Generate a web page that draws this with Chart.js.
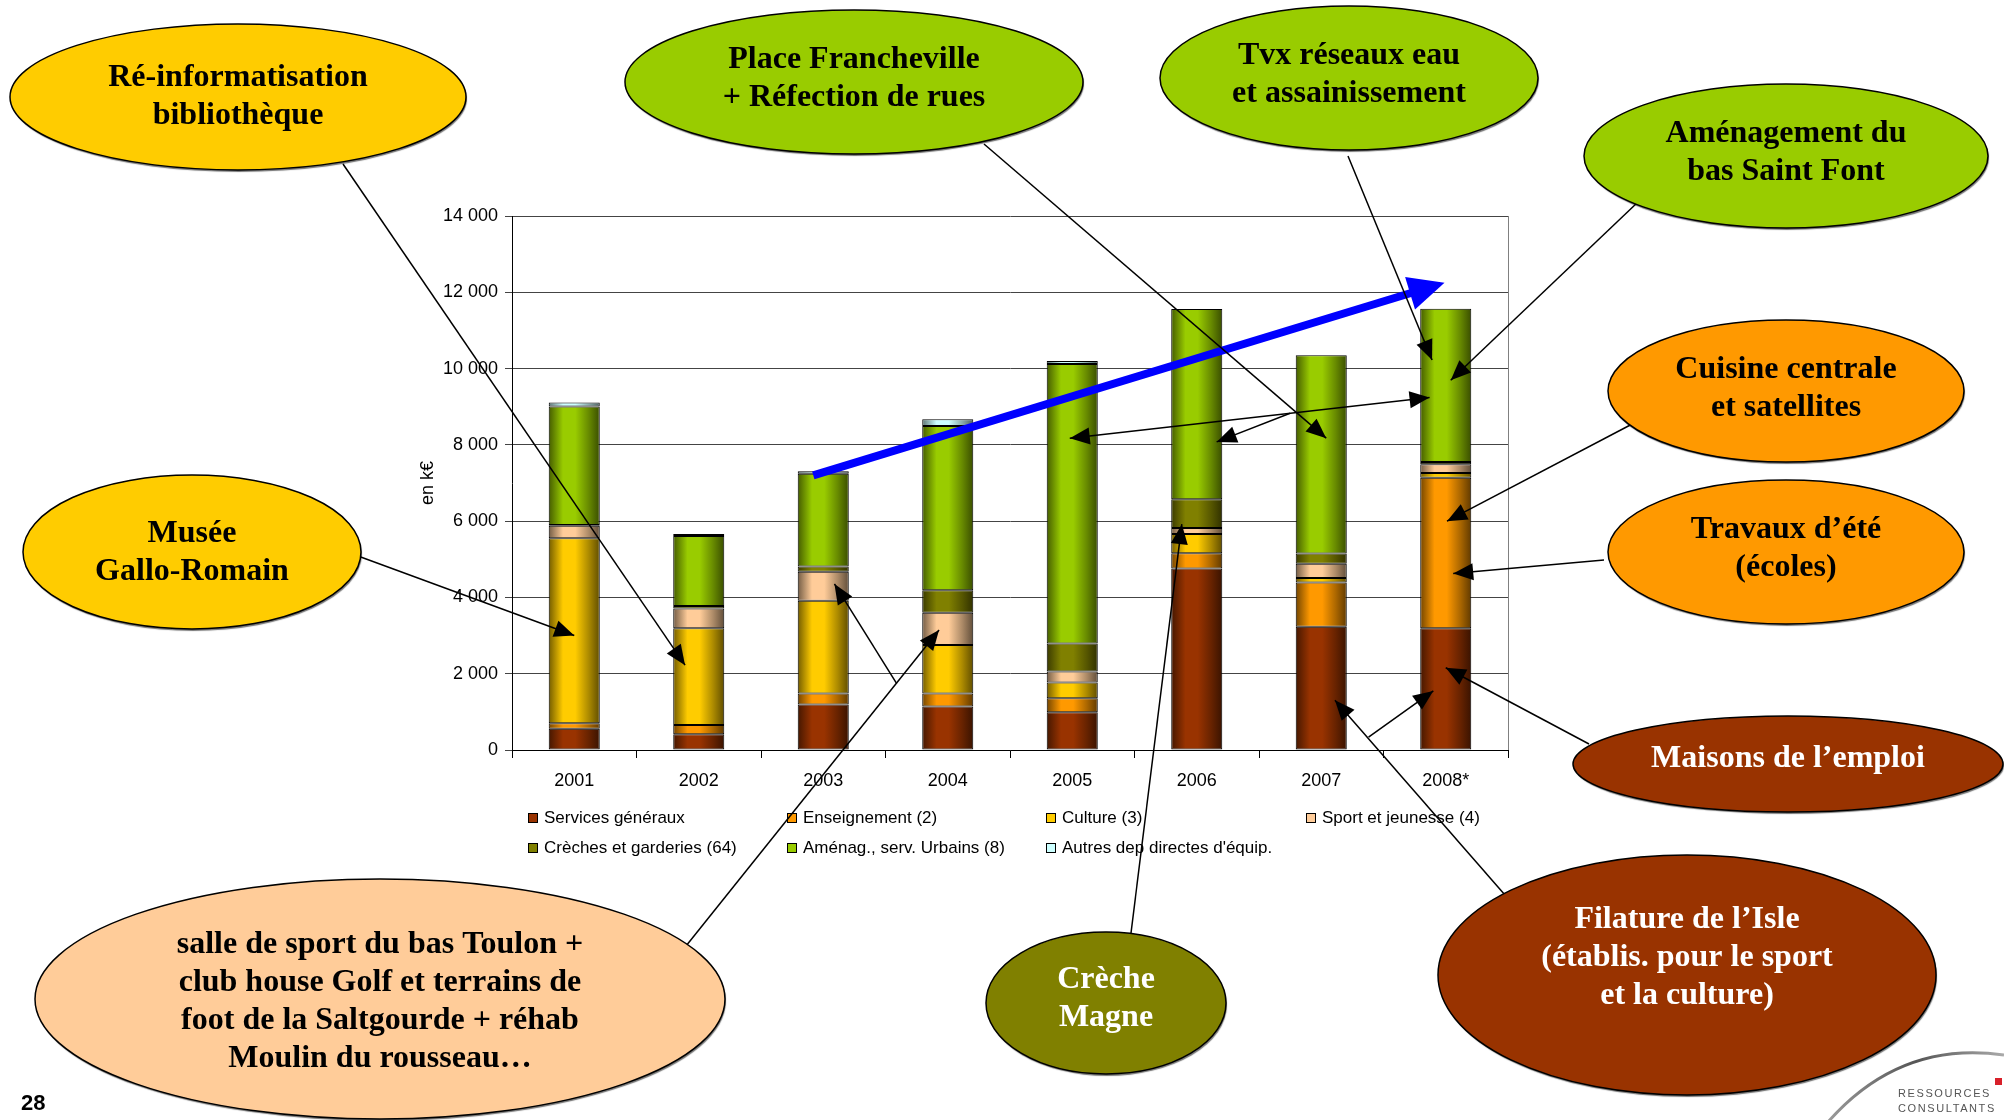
<!DOCTYPE html>
<html lang="fr">
<head>
<meta charset="utf-8">
<title>Dépenses d'équipement 2001-2008</title>
<script src="https://cdn.jsdelivr.net/npm/chart.js@4.4.1/dist/chart.umd.min.js"></script>
<style>
  html, body { margin: 0; padding: 0; background: #fff; }
  #wrap { width: 2004px; height: 1120px; position: relative; }
</style>
</head>
<body>
<div id="wrap"><canvas id="equipChart" width="2004" height="1120"></canvas></div>
<script>
// Dépenses d'équipement par fonction, en k€
const annees = ['2001', '2002', '2003', '2004', '2005', '2006', '2007', '2008*'];
const servicesGeneraux = [560, 416, 1190, 1140, 990, 4760, 3230, 3190];
const enseignement = [140, 242, 290, 340, 370, 400, 1160, 3950];
const culture = [4850, 2535, 2430, 1270, 410, 500, 120, 120];
const sportJeunesse = [330, 520, 765, 850, 290, 160, 370, 230];
const creches = [20, 60, 135, 590, 735, 755, 270, 60];
const amenagement = [3105, 1840, 2430, 4305, 7325, 4990, 5200, 4020];
const autres = [105, 50, 70, 175, 80, 0, 0, 0];
const yTicks = [0, 2000, 4000, 6000, 8000, 10000, 12000, 14000];

const SERIF = '"Liberation Serif", "Times New Roman", serif';
const SANS = '"Liberation Sans", Arial, sans-serif';
const BAR_FRACTION = 0.41;

function rgb(hex) {
  const n = parseInt(hex.slice(1), 16);
  return [(n >> 16) & 255, (n >> 8) & 255, n & 255];
}
function shade(hex, f) {
  const c = rgb(hex).map(v => Math.round(v * f));
  return 'rgb(' + c.join(',') + ')';
}

// remplissage "cylindre" : sombre sur les bords, clair au centre gauche
function barFill(base) {
  return function (c) {
    const chart = c.chart;
    if (!chart.chartArea || c.type !== 'data') return base;
    const xs = chart.scales.x;
    const cx = xs.getPixelForValue(c.dataIndex);
    const w = xs.width / annees.length * BAR_FRACTION;
    const g = chart.ctx.createLinearGradient(cx - w / 2, 0, cx + w / 2, 0);
    g.addColorStop(0, shade(base, 0.45));
    g.addColorStop(0.28, base);
    g.addColorStop(0.52, base);
    g.addColorStop(0.78, shade(base, 0.68));
    g.addColorStop(1, shade(base, 0.38));
    return g;
  };
}

function serie(label, data, color) {
  return {
    label: label,
    data: data,
    legendColor: color,
    backgroundColor: barFill(color),
    borderColor: '#000',
    borderWidth: 1,
    borderSkipped: false,
    barPercentage: BAR_FRACTION,
    categoryPercentage: 1
  };
}

// bulles de commentaire : centre, rayons, couleurs, lignes de texte
const bulles = [
  { x: 238, y: 97, rx: 228, ry: 73, fill: '#FFCC00', color: '#000', ty: 97, lines: ['Ré-informatisation', 'bibliothèque'] },
  { x: 854, y: 82, rx: 229, ry: 72, fill: '#99CC00', color: '#000', ty: 79, lines: ['Place Francheville', '+ Réfection de rues'] },
  { x: 1349, y: 78, rx: 189, ry: 72, fill: '#99CC00', color: '#000', ty: 75, lines: ['Tvx réseaux eau', 'et assainissement'] },
  { x: 1786, y: 156, rx: 202, ry: 72, fill: '#99CC00', color: '#000', ty: 153, lines: ['Aménagement du', 'bas Saint Font'] },
  { x: 1786, y: 391, rx: 178, ry: 71, fill: '#FF9900', color: '#000', ty: 389, lines: ['Cuisine centrale', 'et satellites'] },
  { x: 1786, y: 552, rx: 178, ry: 72, fill: '#FF9900', color: '#000', ty: 549, lines: ['Travaux d’été', '(écoles)'] },
  { x: 1788, y: 764, rx: 215, ry: 48, fill: '#993300', color: '#fff', ty: 759, lines: ['Maisons de l’emploi'] },
  { x: 1687, y: 975, rx: 249, ry: 120, fill: '#993300', color: '#fff', ty: 958, lines: ['Filature de l’Isle', '(établis. pour le sport', 'et la culture)'] },
  { x: 1106, y: 1003, rx: 120, ry: 71, fill: '#808000', color: '#fff', ty: 999, lines: ['Crèche', 'Magne'] },
  { x: 380, y: 999, rx: 345, ry: 120, fill: '#FFCC99', color: '#000', ty: 1002, lines: ['salle de sport du bas Toulon +', 'club house Golf et terrains de', 'foot de la Saltgourde + réhab', 'Moulin du rousseau…'] },
  { x: 192, y: 552, rx: 169, ry: 77, fill: '#FFCC00', color: '#000', ty: 553, lines: ['Musée', 'Gallo-Romain'] }
];

// flèches : départ en pixels (bord de bulle) ou en données {i, v}, pointe en données
const fleches = [
  { from: [343, 164], to: { i: 0.89, v: 2225 } },
  { from: [358, 556], to: { i: 0.0, v: 3000 } },
  { from: [984, 144], to: { i: 6.04, v: 8175 } },
  { from: [1348, 156], to: { i: 6.89, v: 10226 } },
  { from: [1638, 202], to: { i: 7.04, v: 9694 } },
  { from: [1636, 422], to: { i: 7.01, v: 6000 } },
  { from: [1604, 560], to: { i: 7.06, v: 4625 } },
  { from: [1589, 744], to: { i: 7.0, v: 2157 } },
  { from: [1505, 895], to: { i: 6.11, v: 1306 } },
  { from: { i: 6.38, v: 339 }, to: { i: 6.9, v: 1548 } },
  { from: [1131, 933], to: { i: 4.88, v: 5921 } },
  { from: [686, 946], to: { i: 2.93, v: 3144 } },
  { from: { i: 2.59, v: 1740 }, to: { i: 2.09, v: 4354 } },
  { from: { i: 6.87, v: 9240 }, to: { i: 3.98, v: 8175 }, both: true },
  { from: { i: 5.75, v: 8830 }, to: { i: 5.16, v: 8078 } }
];
const tendance = { from: { i: 1.92, v: 7200 }, to: { i: 6.99, v: 12250 } };

function toPx(chart, p) {
  if (Array.isArray(p)) return { x: p[0], y: p[1] };
  return { x: chart.scales.x.getPixelForValue(p.i), y: chart.scales.y.getPixelForValue(p.v) };
}

function pointe(ctx, a, b, len, half, color) {
  const ang = Math.atan2(b.y - a.y, b.x - a.x);
  ctx.save();
  ctx.translate(b.x, b.y);
  ctx.rotate(ang);
  ctx.beginPath();
  ctx.moveTo(0, 0);
  ctx.lineTo(-len, -half);
  ctx.lineTo(-len, half);
  ctx.closePath();
  ctx.fillStyle = color;
  ctx.fill();
  ctx.restore();
}

const decor = {
  id: 'decor',
  beforeDatasetsDraw(chart) {
    const ctx = chart.ctx, a = chart.chartArea;
    ctx.save();
    ctx.strokeStyle = '#808080';
    ctx.lineWidth = 1;
    ctx.beginPath();
    ctx.moveTo(a.right + 0.5, a.top);
    ctx.lineTo(a.right + 0.5, a.bottom);
    ctx.stroke();
    ctx.restore();
  },
  afterDraw(chart) {
    const ctx = chart.ctx, a = chart.chartArea;
    ctx.save();

    // titre de l'axe
    ctx.save();
    ctx.translate(428, (a.top + a.bottom) / 2);
    ctx.rotate(-Math.PI / 2);
    ctx.font = '18px ' + SANS;
    ctx.fillStyle = '#000';
    ctx.textAlign = 'center';
    ctx.textBaseline = 'middle';
    ctx.fillText('en k€', 0, 0);
    ctx.restore();

    // légende
    const cols = [528, 787, 1046, 1306], rows = [818, 848];
    ctx.font = '17px ' + SANS;
    ctx.textBaseline = 'middle';
    ctx.textAlign = 'left';
    chart.data.datasets.forEach((ds, k) => {
      const col = k < 4 ? k : k - 4, row = k < 4 ? 0 : 1;
      const x = cols[col], y = rows[row];
      ctx.fillStyle = ds.legendColor;
      ctx.fillRect(x, y - 5, 9, 9);
      ctx.strokeStyle = '#000';
      ctx.lineWidth = 1;
      ctx.strokeRect(x + 0.5, y - 4.5, 9, 9);
      ctx.fillStyle = '#000';
      ctx.fillText(ds.label, x + 16, y);
    });

    // flèche de tendance
    const t0 = toPx(chart, tendance.from), t1 = toPx(chart, tendance.to);
    const ang = Math.atan2(t1.y - t0.y, t1.x - t0.x);
    ctx.strokeStyle = '#0000FF';
    ctx.lineWidth = 8;
    ctx.beginPath();
    ctx.moveTo(t0.x, t0.y);
    ctx.lineTo(t1.x - Math.cos(ang) * 30, t1.y - Math.sin(ang) * 30);
    ctx.stroke();
    pointe(ctx, t0, t1, 36, 17, '#0000FF');

    // flèches noires
    ctx.strokeStyle = '#000';
    ctx.lineWidth = 1.5;
    fleches.forEach(f => {
      const p0 = toPx(chart, f.from), p1 = toPx(chart, f.to);
      ctx.beginPath();
      ctx.moveTo(p0.x, p0.y);
      ctx.lineTo(p1.x, p1.y);
      ctx.stroke();
      pointe(ctx, p0, p1, 20, 8.5, '#000');
      if (f.both) pointe(ctx, p1, p0, 20, 8.5, '#000');
    });

    // bulles
    bulles.forEach(b => {
      ctx.save();
      ctx.shadowColor = 'rgba(0,0,0,0.55)';
      ctx.shadowOffsetX = 1;
      ctx.shadowOffsetY = 2;
      ctx.shadowBlur = 1;
      ctx.beginPath();
      ctx.ellipse(b.x, b.y, b.rx, b.ry, 0, 0, Math.PI * 2);
      ctx.fillStyle = b.fill;
      ctx.fill();
      ctx.restore();
      ctx.beginPath();
      ctx.ellipse(b.x, b.y, b.rx, b.ry, 0, 0, Math.PI * 2);
      ctx.strokeStyle = '#000';
      ctx.lineWidth = 1.5;
      ctx.stroke();
      ctx.font = 'bold 32px ' + SERIF;
      ctx.fillStyle = b.color;
      ctx.textAlign = 'center';
      ctx.textBaseline = 'middle';
      const lh = 38;
      const y0 = b.ty - (b.lines.length - 1) * lh / 2;
      b.lines.forEach((l, k) => ctx.fillText(l, b.x, y0 + k * lh));
    });

    // numéro de page
    ctx.font = 'bold 22px ' + SANS;
    ctx.fillStyle = '#000';
    ctx.textAlign = 'left';
    ctx.textBaseline = 'alphabetic';
    ctx.fillText('28', 21, 1110);

    // logo
    const g = ctx.createLinearGradient(1828, 0, 2004, 0);
    g.addColorStop(0, '#9a9a9a');
    g.addColorStop(0.5, '#555');
    g.addColorStop(1, '#aaa');
    ctx.strokeStyle = g;
    ctx.lineWidth = 3;
    ctx.beginPath();
    ctx.moveTo(1828, 1122);
    ctx.quadraticCurveTo(1900, 1040, 2004, 1055);
    ctx.stroke();
    ctx.fillStyle = '#d8202a';
    ctx.fillRect(1995, 1078, 7, 7);
    ctx.fillStyle = '#555';
    ctx.font = '11px ' + SANS;
    ctx.letterSpacing = '1.6px';
    ctx.fillText('RESSOURCES', 1898, 1097);
    ctx.fillText('CONSULTANTS', 1898, 1112);
    ctx.letterSpacing = '0px';

    ctx.restore();
  }
};

const ctx = document.getElementById('equipChart').getContext('2d');
new Chart(ctx, {
  type: 'bar',
  data: {
    labels: annees,
    datasets: [
      serie('Services généraux', servicesGeneraux, '#993300'),
      serie('Enseignement (2)', enseignement, '#FF9900'),
      serie('Culture (3)', culture, '#FFCC00'),
      serie('Sport et jeunesse (4)', sportJeunesse, '#FFCC99'),
      serie('Crèches et garderies (64)', creches, '#808000'),
      serie('Aménag., serv. Urbains (8)', amenagement, '#99CC00'),
      serie("Autres dep directes d'équip.", autres, '#CCFFFF')
    ]
  },
  options: {
    responsive: false,
    animation: false,
    devicePixelRatio: 1,
    layout: { padding: { left: 432, top: 216, right: 496, bottom: 320 } },
    plugins: {
      legend: { display: false },
      tooltip: { enabled: false }
    },
    scales: {
      x: {
        stacked: true,
        grid: { drawOnChartArea: false, offset: true, tickLength: 8, color: '#000' },
        border: { color: '#000', width: 1 },
        ticks: { color: '#000', font: { family: SANS, size: 18 }, padding: 12 },
        afterFit(s) { s.height = 50; }
      },
      y: {
        stacked: true,
        min: yTicks[0],
        max: yTicks[yTicks.length - 1],
        afterBuildTicks(s) { s.ticks = yTicks.map(v => ({ value: v })); },
        grid: { color: '#444', lineWidth: 1, tickLength: 7 },
        border: { color: '#000', width: 1 },
        ticks: {
          color: '#000',
          font: { family: SANS, size: 18 },
          padding: 7,
          callback: v => String(v).replace(/\B(?=(\d{3})+(?!\d))/g, ' ')
        },
        afterFit(s) { s.width = 80; }
      }
    }
  },
  plugins: [decor]
});
</script>
</body>
</html>
